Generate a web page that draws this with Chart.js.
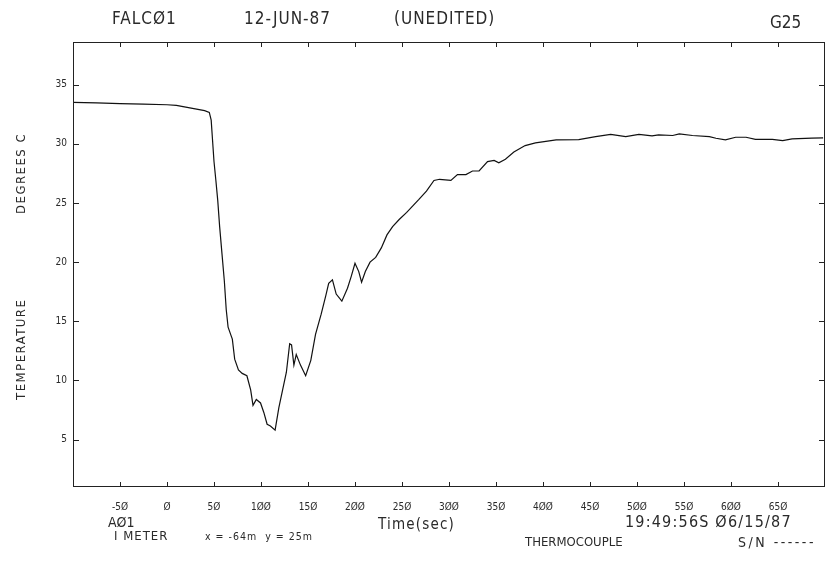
<!DOCTYPE html>
<html>
<head>
<meta charset="utf-8">
<script src="https://cdn.jsdelivr.net/npm/chart.js@4.4.1/dist/chart.umd.min.js"></script>
<style>
  body { margin: 0; background: #fff; }
  #wrap { position: relative; width: 833px; height: 563px; overflow: hidden; }
  #chart { position: absolute; left: 0; top: 0; }
  .lbl {
    position: absolute; white-space: pre; color: #2a2a2a;
    font-family: "Liberation Sans Narrow", "DejaVu Sans Condensed", "Liberation Sans", sans-serif;
    line-height: 1;
  }
  .rot { transform-origin: 0 0; transform: rotate(-90deg); }
</style>
</head>
<body>
<div id="wrap">
  <canvas id="chart" width="833" height="563"></canvas>

  <div class="lbl" style="left:112px; top:10px; font-size:17px; letter-spacing:1px;">FALCØ1</div>
  <div class="lbl" style="left:244px; top:10px; font-size:17px; letter-spacing:1px;">12-JUN-87</div>
  <div class="lbl" style="left:394px; top:10px; font-size:17px; letter-spacing:1px;">(UNEDITED)</div>
  <div class="lbl" style="left:770px; top:14px; font-size:17px;">G25</div>

  <div class="lbl rot" style="left:14px; top:214px; font-size:13px; letter-spacing:1.5px;">DEGREES C</div>
  <div class="lbl rot" style="left:14px; top:400px; font-size:13px; letter-spacing:1.5px;">TEMPERATURE</div>

  <div class="lbl" style="left:108px; top:515px; font-size:14px;">AØ1</div>
  <div class="lbl" style="left:114px; top:529px; font-size:13px; letter-spacing:1px;">I METER</div>
  <div class="lbl" style="left:205px; top:531px; font-size:10.5px; letter-spacing:1px;">x = -64m  y = 25m</div>
  <div class="lbl" style="left:378px; top:517px; font-size:15px; letter-spacing:1.2px;">Time(sec)</div>
  <div class="lbl" style="left:625px; top:514px; font-size:16px; letter-spacing:1.2px;">19:49:56S Ø6/15/87</div>
  <div class="lbl" style="left:525px; top:535px; font-size:13px;">THERMOCOUPLE</div>
  <div class="lbl" style="left:738px; top:535px; font-size:14px; letter-spacing:2.5px;">S/N ------</div>
</div>

<script>
// Zeit (detik) dan suhu (derajat C)
var timeSec = [
  -100, -75, -50, -25, 0, 10, 20, 30, 40, 45,
  47, 50, 52, 54, 56, 58.5, 61, 63, 65, 67.7,
  69.5, 72, 76, 80, 85, 89, 91.5, 95, 99.5, 103,
  106.5, 110, 115, 119, 123, 127, 130.5, 132.5, 135, 137.5,
  142, 147.5, 153, 158, 164, 169, 172, 176, 180, 186,
  192, 196, 200, 204, 207, 211, 216, 222, 228, 234,
  240, 247, 255, 262, 268, 276, 284, 290, 302, 309,
  318, 325, 332, 341, 348, 353, 360, 369, 381, 392,
  403, 414, 438, 456, 472, 488, 502, 516, 523, 538,
  545, 559, 577, 584, 594, 605, 616, 626, 644, 655,
  665, 686, 698
];
var tempC = [
  33.5, 33.45, 33.4, 33.35, 33.3, 33.25, 33.1, 32.95, 32.8, 32.65,
  32.0, 28.5, 26.9, 25.2, 23.0, 20.7, 18.4, 16.0, 14.5, 13.9,
  13.5, 11.8, 10.9, 10.6, 10.4, 9.2, 7.9, 8.4, 8.1, 7.3,
  6.3, 6.15, 5.8, 7.7, 9.2, 10.7, 13.1, 13.0, 11.3, 12.2,
  11.3, 10.4, 11.7, 13.9, 15.6, 17.2, 18.2, 18.5, 17.3, 16.7,
  17.8, 18.8, 19.9, 19.2, 18.3, 19.2, 20.0, 20.4, 21.2, 22.3,
  23.0, 23.6, 24.2, 24.8, 25.3, 26.0, 26.9, 27.0, 26.9, 27.4,
  27.4, 27.7, 27.7, 28.5, 28.6, 28.4, 28.7, 29.3, 29.85, 30.07,
  30.2, 30.33, 30.35, 30.6, 30.8, 30.6, 30.8, 30.67, 30.75, 30.7,
  30.84, 30.7, 30.6, 30.47, 30.33, 30.55, 30.55, 30.38, 30.38, 30.27,
  30.41, 30.47, 30.5
];

var xTicks = [-50, 0, 50, 100, 150, 200, 250, 300, 350, 400, 450, 500, 550, 600, 650];
var xTickLabels = ['-5Ø', 'Ø', '5Ø', '1ØØ', '15Ø', '2ØØ', '25Ø', '3ØØ', '35Ø', '4ØØ', '45Ø', '5ØØ', '55Ø', '6ØØ', '65Ø'];
var yTicks = [5, 10, 15, 20, 25, 30, 35];
var xMin = -100, xMax = 700;
var yMin = 1, yMax = 38.6;

var plotFont = '"Liberation Sans Narrow", "DejaVu Sans Condensed", "Liberation Sans", sans-serif';

// gabungkan jadi titik x/y
var points = timeSec.map(function(t, i) {
  return { x: t, y: tempC[i] };
});

// kotak plot + tick ke dalam (gaya plotter)
var frameTicks = {
  id: 'frameTicks',
  afterDraw: function(chart) {
    var ctx = chart.ctx;
    var a = chart.chartArea;
    var xs = chart.scales.x, ys = chart.scales.y;
    ctx.save();
    ctx.strokeStyle = '#222';
    ctx.lineWidth = 1;
    ctx.strokeRect(a.left + 0.5, a.top + 0.5, a.right - a.left - 1, a.bottom - a.top - 1);
    ctx.beginPath();
    xTicks.forEach(function(v) {
      var px = Math.round(xs.getPixelForValue(v)) + 0.5;
      ctx.moveTo(px, a.bottom); ctx.lineTo(px, a.bottom - 5);
      ctx.moveTo(px, a.top); ctx.lineTo(px, a.top + 5);
    });
    yTicks.forEach(function(v) {
      var py = Math.round(ys.getPixelForValue(v)) + 0.5;
      ctx.moveTo(a.left, py); ctx.lineTo(a.left + 6, py);
      ctx.moveTo(a.right, py); ctx.lineTo(a.right - 6, py);
    });
    ctx.stroke();
    ctx.restore();
  }
};

var ctx = document.getElementById('chart').getContext('2d');
var tempChart = new Chart(ctx, {
  type: 'line',
  data: {
    datasets: [{
      label: 'Temperature',
      data: points,
      borderColor: '#111',
      borderWidth: 1.2,
      pointRadius: 0,
      tension: 0,
      fill: false
    }]
  },
  options: {
    responsive: false,
    animation: false,
    devicePixelRatio: 1,
    layout: { padding: { left: 0, top: 42, right: 8, bottom: 0 } },
    scales: {
      x: {
        type: 'linear',
        min: xMin,
        max: xMax,
        afterBuildTicks: function(scale) {
          scale.ticks = xTicks.map(function(v) { return { value: v }; });
        },
        afterFit: function(scale) { scale.height = 76; },
        grid: { display: false, drawTicks: false },
        border: { display: false },
        ticks: {
          padding: 14,
          maxRotation: 0,
          autoSkip: false,
          color: '#2a2a2a',
          font: { family: plotFont, size: 10 },
          callback: function(value) {
            var i = xTicks.indexOf(value);
            return i >= 0 ? xTickLabels[i] : '';
          }
        }
      },
      y: {
        type: 'linear',
        min: yMin,
        max: yMax,
        afterBuildTicks: function(scale) {
          scale.ticks = yTicks.map(function(v) { return { value: v }; });
        },
        afterFit: function(scale) { scale.width = 73; },
        grid: { display: false, drawTicks: false },
        border: { display: false },
        ticks: {
          padding: 6,
          color: '#2a2a2a',
          font: { family: plotFont, size: 10 }
        }
      }
    },
    plugins: {
      legend: { display: false },
      tooltip: { enabled: false }
    }
  },
  plugins: [frameTicks]
});
</script>
</body>
</html>
